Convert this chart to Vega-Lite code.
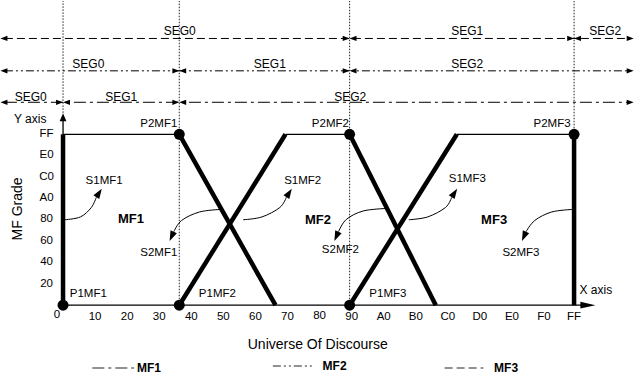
{
 "$schema": "https://vega.github.io/schema/vega-lite/v6.json",
 "width": 634, "height": 379, "padding": 0,
 "autosize": {"type": "fit", "contains": "padding"},
 "background": "white",
 "config": {"view": {"stroke": null}, "text": {"font": "Liberation Sans", "color": "black"}},
 "datasets": {
  "guides": [{"v":0,"g":287,"g2":453.9},{"v":58,"g":0,"g2":453.9},{"v":143,"g":0,"g2":453.9},{"v":255,"g":255,"g2":453.9}],
  "segrows": [{"mf":"MF3","v":-29,"v2":283,"g":398},{"mf":"MF2","v":-29,"v2":283,"g":349.7},{"mf":"MF1","v":-29,"v2":283,"g":302.8}],
  "legendlines": [{"mf":"MF1","v":14.6,"v2":35.4,"g":-93.75},{"mf":"MF2","v":104.7,"v2":125.5,"g":-90.8},{"mf":"MF3","v":190.4,"v2":209.7,"g":-93.75}],
  "thin": [{"v":0,"g":0,"v2":262,"g2":0},{"v":0,"g":255,"v2":0,"g2":281},{"v":0,"g":255,"v2":58,"g2":255},{"v":111,"g":255,"v2":143,"g2":255},{"v":196.5,"g":255,"v2":255,"g2":255}],
  "thick": [{"v":0,"g":0,"v2":0,"g2":255},{"v":58,"g":255,"v2":106,"g2":0},{"v":58,"g":0,"v2":111,"g2":255},{"v":143,"g":255,"v2":186,"g2":0},{"v":143,"g":0,"v2":196.5,"g2":255},{"v":255,"g":0,"v2":255,"g2":255}],
  "dots": [{"v":0,"g":0},{"v":58,"g":255},{"v":58,"g":0},{"v":143,"g":255},{"v":143,"g":0},{"v":255,"g":255}],
  "segarrows": [
   {"v":141.3,"g":398,"angle":90},{"v":253.3,"g":398,"angle":90},{"v":283,"g":398,"angle":90},
   {"v":144.7,"g":398,"angle":270},{"v":256.7,"g":398,"angle":270},{"v":-29.5,"g":398,"angle":270},
   {"v":56.3,"g":349.7,"angle":90},{"v":141.3,"g":349.7,"angle":90},{"v":283,"g":349.7,"angle":90},
   {"v":59.7,"g":349.7,"angle":270},{"v":144.7,"g":349.7,"angle":270},{"v":-29.5,"g":349.7,"angle":270},
   {"v":-1.73,"g":302.8,"angle":90},{"v":56.3,"g":302.8,"angle":90},{"v":283,"g":302.8,"angle":90},
   {"v":1.73,"g":302.8,"angle":270},{"v":59.7,"g":302.8,"angle":270},{"v":-29.5,"g":302.8,"angle":270}
  ],
  "xarrow": [{"v":261.9,"g":0,"angle":90}],
  "yarrow": [{"v":0,"g":280.5,"angle":0}],
  "curvearrows": [{"v":17.97,"g":167.4,"angle":33},{"v":112.8,"g":167.4,"angle":33},{"v":195.3,"g":167.4,"angle":33},{"v":54.2,"g":102.8,"angle":204},{"v":136.4,"g":102.8,"angle":204},{"v":230,"g":102.8,"angle":204}],
  "curves": [
   {"id":"S1MF1","seq":0,"v":0.74,"g":127.5},{"id":"S1MF1","seq":1,"v":8.66,"g":131.7},{"id":"S1MF1","seq":2,"v":14.11,"g":145.8},{"id":"S1MF1","seq":3,"v":16.63,"g":161.2},
   {"id":"S1MF2","seq":0,"v":89.85,"g":127.5},{"id":"S1MF2","seq":1,"v":99.26,"g":131.7},{"id":"S1MF2","seq":2,"v":108.17,"g":145.8},{"id":"S1MF2","seq":3,"v":111.44,"g":161.2},
   {"id":"S1MF3","seq":0,"v":172.52,"g":127.5},{"id":"S1MF3","seq":1,"v":181.93,"g":131.7},{"id":"S1MF3","seq":2,"v":190.84,"g":145.8},{"id":"S1MF3","seq":3,"v":193.96,"g":161.2},
   {"id":"S2MF1","seq":0,"v":78.47,"g":142.9},{"id":"S2MF1","seq":1,"v":68.07,"g":139.1},{"id":"S2MF1","seq":2,"v":59.16,"g":126.5},{"id":"S2MF1","seq":3,"v":55.25,"g":109.5},
   {"id":"S2MF2","seq":0,"v":161,"g":144.3},{"id":"S2MF2","seq":1,"v":149.75,"g":140.6},{"id":"S2MF2","seq":2,"v":141.34,"g":128.0},{"id":"S2MF2","seq":3,"v":137.43,"g":109.5},
   {"id":"S2MF3","seq":0,"v":254.21,"g":142.9},{"id":"S2MF3","seq":1,"v":243.81,"g":139.1},{"id":"S2MF3","seq":2,"v":235.4,"g":126.5},{"id":"S2MF3","seq":3,"v":230.99,"g":109.5}
  ],
  "labels": [
   {"grp":"tick","text":"0","v":-3,"g":-14.9},
   {"grp":"tick","text":"10","v":16,"g":-17.9},{"grp":"tick","text":"20","v":32,"g":-17.9},{"grp":"tick","text":"30","v":48,"g":-17.9},
   {"grp":"tick","text":"40","v":64,"g":-17.9},{"grp":"tick","text":"50","v":80,"g":-17.9},{"grp":"tick","text":"60","v":96,"g":-17.9},
   {"grp":"tick","text":"70","v":112,"g":-17.9},{"grp":"tick","text":"80","v":128,"g":-15.5},{"grp":"tick","text":"90","v":144,"g":-17.9},
   {"grp":"tick","text":"A0","v":160,"g":-17.9},{"grp":"tick","text":"B0","v":176,"g":-17.9},{"grp":"tick","text":"C0","v":192,"g":-17.9},
   {"grp":"tick","text":"D0","v":208,"g":-17.9},{"grp":"tick","text":"E0","v":224,"g":-17.9},{"grp":"tick","text":"F0","v":240,"g":-17.9},
   {"grp":"tick","text":"FF","v":255,"g":-17.9},
   {"grp":"tick","text":"20","v":-8.2,"g":32},{"grp":"tick","text":"40","v":-8.2,"g":64},{"grp":"tick","text":"60","v":-8.2,"g":96},
   {"grp":"tick","text":"80","v":-8.2,"g":128},{"grp":"tick","text":"A0","v":-8.2,"g":160},{"grp":"tick","text":"C0","v":-8.2,"g":192},
   {"grp":"tick","text":"E0","v":-8.2,"g":224},{"grp":"tick","text":"FF","v":-8.2,"g":255},
   {"grp":"pt","text":"P1MF1","v":12.6,"g":16.4},{"grp":"pt","text":"P2MF1","v":47.8,"g":270.8},
   {"grp":"pt","text":"P1MF2","v":77,"g":16.4},{"grp":"pt","text":"P2MF2","v":133.4,"g":270.8},
   {"grp":"pt","text":"P1MF3","v":162.1,"g":16.4},{"grp":"pt","text":"P2MF3","v":244,"g":270.8},
   {"grp":"pt","text":"S1MF1","v":20.5,"g":186},{"grp":"pt","text":"S2MF1","v":47.8,"g":77.4},
   {"grp":"pt","text":"S1MF2","v":119.6,"g":186},{"grp":"pt","text":"S2MF2","v":138.4,"g":81.8},
   {"grp":"pt","text":"S1MF3","v":201.7,"g":189},{"grp":"pt","text":"S2MF3","v":228.5,"g":77.4},
   {"grp":"axname","text":"Y axis","v":-24.5,"g":278.3},{"grp":"axname","text":"X axis","v":257.7,"g":22.3},
   {"grp":"seg","text":"SEG0","v":58.2,"g":409},{"grp":"seg","text":"SEG1","v":201.7,"g":409},{"grp":"seg","text":"SEG2","v":270.5,"g":409},
   {"grp":"seg","text":"SEG0","v":12.6,"g":360},{"grp":"seg","text":"SEG1","v":103.2,"g":360},{"grp":"seg","text":"SEG2","v":201.7,"g":360},
   {"grp":"seg","text":"SEG0","v":-16.1,"g":311},{"grp":"seg","text":"SEG1","v":29,"g":311},{"grp":"seg","text":"SEG2","v":143.3,"g":311},
   {"grp":"mf","text":"MF1","v":33.9,"g":128},{"grp":"mf","text":"MF2","v":127.2,"g":126.5},{"grp":"mf","text":"MF3","v":215.1,"g":126.5},
   {"grp":"title","text":"Universe Of Discourse","v":127.1,"g":-59.5},
   {"grp":"ytitle","text":"MF Grade","v":-22.5,"g":143.6},
   {"grp":"legend","text":"MF1","v":36.9,"g":-93.75},{"grp":"legend","text":"MF2","v":129.5,"g":-90.8},{"grp":"legend","text":"MF3","v":215.1,"g":-93.75}
  ]
 },
 "encoding": {
  "x": {"field": "v", "type": "quantitative", "scale": {"domain": [-28.96, 284.9], "nice": false, "zero": false}, "axis": null},
  "y": {"field": "g", "type": "quantitative", "scale": {"domain": [-110.1, 453.9], "nice": false, "zero": false}, "axis": null}
 },
 "layer": [
  {"data": {"name": "guides"}, "mark": {"type": "rule", "strokeDash": [1.5, 1.5], "strokeWidth": 1, "color": "#222"}, "encoding": {"y2": {"field": "g2"}}},
  {"data": {"name": "segrows"}, "mark": {"type": "rule", "strokeWidth": 1, "color": "black"},
   "encoding": {"x2": {"field": "v2"}, "strokeDash": {"field": "mf", "type": "nominal", "scale": {"domain": ["MF1", "MF2", "MF3"], "range": [[12, 4, 3, 4], [8, 3, 2, 3, 2, 3], [8, 4]]}, "legend": null}}},
  {"data": {"name": "legendlines"}, "mark": {"type": "rule", "strokeWidth": 1.5, "color": "#6e6e6e"},
   "encoding": {"x2": {"field": "v2"}, "strokeDash": {"field": "mf", "type": "nominal", "scale": {"domain": ["MF1", "MF2", "MF3"], "range": [[12, 4, 3, 4], [8, 3, 2, 3, 2, 3], [8, 4]]}, "legend": null}}},
  {"data": {"name": "thin"}, "mark": {"type": "rule", "strokeWidth": 1.3, "color": "black"}, "encoding": {"x2": {"field": "v2"}, "y2": {"field": "g2"}}},
  {"data": {"name": "thick"}, "mark": {"type": "rule", "strokeWidth": 4.5, "color": "black"}, "encoding": {"x2": {"field": "v2"}, "y2": {"field": "g2"}}},
  {"data": {"name": "curves"}, "mark": {"type": "line", "interpolate": "cardinal", "strokeWidth": 1, "color": "black"}, "encoding": {"detail": {"field": "id"}, "order": {"field": "seq"}}},
  {"data": {"name": "dots"}, "mark": {"type": "point", "shape": "circle", "filled": true, "size": 120, "color": "black", "opacity": 1}},
  {"data": {"name": "segarrows"}, "mark": {"type": "point", "shape": "M0,-1L0.75,1L-0.75,1Z", "filled": true, "size": 49, "color": "black", "opacity": 1, "strokeWidth": 0},
   "encoding": {"angle": {"field": "angle", "type": "quantitative", "scale": null}}},
  {"data": {"name": "xarrow"}, "mark": {"type": "point", "shape": "M0,-1L0.45,1L-0.45,1Z", "filled": true, "size": 225, "color": "black", "opacity": 1, "strokeWidth": 0},
   "encoding": {"angle": {"field": "angle", "type": "quantitative", "scale": null}}},
  {"data": {"name": "yarrow"}, "mark": {"type": "point", "shape": "M0,-1L0.85,1L-0.85,1Z", "filled": true, "size": 64, "color": "black", "opacity": 1, "strokeWidth": 0},
   "encoding": {"angle": {"field": "angle", "type": "quantitative", "scale": null}}},
  {"data": {"name": "curvearrows"}, "mark": {"type": "point", "shape": "M0,-1L0.7,1L-0.7,1Z", "filled": true, "size": 100, "color": "black", "opacity": 1, "strokeWidth": 0},
   "encoding": {"angle": {"field": "angle", "type": "quantitative", "scale": null}}},
  {"data": {"name": "labels"}, "transform": [{"filter": "datum.grp === 'tick'"}], "mark": {"type": "text", "fontSize": 11.5, "align": "center", "baseline": "middle"}, "encoding": {"text": {"field": "text"}}},
  {"data": {"name": "labels"}, "transform": [{"filter": "datum.grp === 'pt'"}], "mark": {"type": "text", "fontSize": 11.5, "align": "center", "baseline": "middle"}, "encoding": {"text": {"field": "text"}}},
  {"data": {"name": "labels"}, "transform": [{"filter": "datum.grp === 'axname'"}], "mark": {"type": "text", "fontSize": 12, "align": "left", "baseline": "middle"}, "encoding": {"text": {"field": "text"}}},
  {"data": {"name": "labels"}, "transform": [{"filter": "datum.grp === 'seg'"}], "mark": {"type": "text", "fontSize": 12, "align": "center", "baseline": "middle"}, "encoding": {"text": {"field": "text"}}},
  {"data": {"name": "labels"}, "transform": [{"filter": "datum.grp === 'mf'"}], "mark": {"type": "text", "fontSize": 13, "fontWeight": "bold", "align": "center", "baseline": "middle"}, "encoding": {"text": {"field": "text"}}},
  {"data": {"name": "labels"}, "transform": [{"filter": "datum.grp === 'title'"}], "mark": {"type": "text", "fontSize": 14, "align": "center", "baseline": "middle"}, "encoding": {"text": {"field": "text"}}},
  {"data": {"name": "labels"}, "transform": [{"filter": "datum.grp === 'ytitle'"}], "mark": {"type": "text", "fontSize": 14, "angle": 270, "align": "center", "baseline": "middle"}, "encoding": {"text": {"field": "text"}}},
  {"data": {"name": "labels"}, "transform": [{"filter": "datum.grp === 'legend'"}], "mark": {"type": "text", "fontSize": 12, "fontWeight": "bold", "align": "left", "baseline": "middle"}, "encoding": {"text": {"field": "text"}}}
 ]
}
